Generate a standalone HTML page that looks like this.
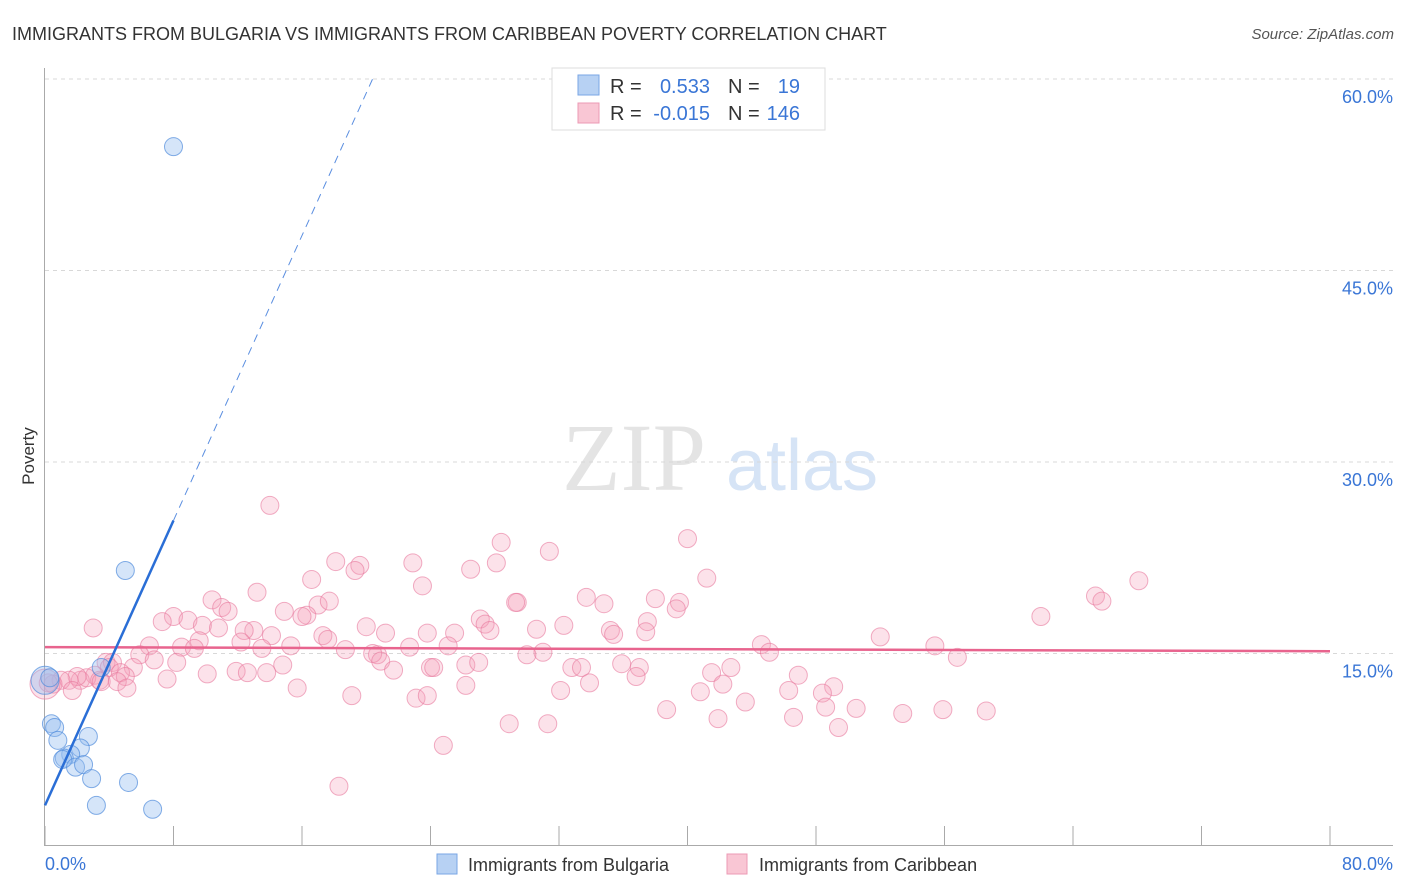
<!DOCTYPE html>
<html><head><meta charset="utf-8">
<style>
body{margin:0;background:#fff;width:1406px;height:892px;overflow:hidden;font-family:"Liberation Sans",sans-serif}
svg{display:block}
</style></head>
<body>
<svg id="chart" width="1406" height="892" xmlns="http://www.w3.org/2000/svg">
<text x="12" y="40" font-size="18" fill="#333">IMMIGRANTS FROM BULGARIA VS IMMIGRANTS FROM CARIBBEAN POVERTY CORRELATION CHART</text>
<text x="1394" y="39" font-size="15" fill="#555" font-style="italic" text-anchor="end">Source: ZipAtlas.com</text>
<g>
<text x="634" y="490" font-size="96" fill="#e4e4e4" text-anchor="middle" font-family="Liberation Serif,serif">ZIP</text>
<text x="802" y="490" font-size="72" fill="#d6e4f6" text-anchor="middle">atlas</text>
</g>
<g id="grid"></g>
<g id="axes"></g>
<g id="marks"></g>
<text x="34" y="456" font-size="17" fill="#333" text-anchor="middle" transform="rotate(-90 34 456)">Poverty</text>
<g>
<rect x="552" y="68" width="273" height="62" fill="#fff" stroke="#ddd"/>
<rect x="578" y="75" width="21" height="20" fill="#b7d1f3" stroke="#7aa6e4"/>
<rect x="578" y="103" width="21" height="20" fill="#f9c6d4" stroke="#ec9ab4"/>
<text x="610" y="93" font-size="20" fill="#333">R =</text>
<text x="710" y="93" font-size="20" fill="#3a76d6" text-anchor="end">0.533</text>
<text x="728" y="93" font-size="20" fill="#333">N =</text>
<text x="800" y="93" font-size="20" fill="#3a76d6" text-anchor="end">19</text>
<text x="610" y="120" font-size="20" fill="#333">R =</text>
<text x="710" y="120" font-size="20" fill="#3a76d6" text-anchor="end">-0.015</text>
<text x="728" y="120" font-size="20" fill="#333">N =</text>
<text x="800" y="120" font-size="20" fill="#3a76d6" text-anchor="end">146</text>
</g>
<g>
<rect x="437" y="854" width="20" height="20" fill="#b7d1f3" stroke="#7aa6e4"/>
<text x="468" y="871" font-size="18" fill="#333">Immigrants from Bulgaria</text>
<rect x="727" y="854" width="20" height="20" fill="#f9c6d4" stroke="#ec9ab4"/>
<text x="759" y="871" font-size="18" fill="#333">Immigrants from Caribbean</text>
</g>
</svg>
<script>
const yTicks=[15,30,45,60];
const yTickLabels=["15.0%","30.0%","45.0%","60.0%"];
const xTicks=[0,8,16,24,32,40,48,56,64,72,80];
const xEndLabels=["0.0%","80.0%"];
const bulgariaX=[8.0,5.0,3.5,0.4,0.6,0.8,2.7,2.2,1.6,1.2,1.1,1.9,2.4,2.9,5.2,3.2,6.7,0,0.3];
const bulgariaY=[54.7,21.5,13.9,9.5,9.2,8.2,8.5,7.6,7.1,6.8,6.7,6.1,6.3,5.2,4.9,3.1,2.8,12.9,13.1];
const caribX=[14,40,28.4,31.4,18.1,22.9,19.6,19.3,28.1,26.5,68.1,41.2,16.6,13.2,23.5,33.7,65.4,65.8,29.4,29.3,34.8,38.0,39.5,10.4,11.0,11.4,17.0,17.7,8.0,8.9,14.9,16.3,16.0,27.1,39.3,62.0,7.3,9.8,10.8,20.0,27.4,27.7,30.6,32.3,35.2,35.4,37.5,37.4,3.0,13.0,12.4,14.1,17.3,17.6,21.2,23.8,25.5,6.5,9.6,12.2,8.5,9.3,13.5,15.3,22.7,25.1,44.6,52.0,55.4,45.1,18.7,20.7,20.4,31.0,30.0,56.8,5.9,6.8,3.8,4.2,8.2,4.0,5.5,14.8,20.9,21.7,24.0,24.2,26.2,27.0,32.8,33.4,35.9,37.0,42.7,41.5,46.9,11.9,12.6,13.8,10.1,3.1,4.7,5.0,2.2,2.6,2.0,1.5,1.0,0.5,3.4,3.5,4.5,7.6,5.1,1.7,0.2,33.9,36.8,26.2,15.7,32.1,40.8,42.2,46.3,49.1,48.4,19.1,23.1,23.8,43.6,48.6,50.5,38.7,41.9,46.6,53.4,55.9,58.6,28.9,31.3,49.4,24.8,18.3,0];
const caribY=[26.6,24.0,23.7,23.0,22.2,22.1,21.9,21.5,22.1,21.6,20.7,20.9,20.8,19.8,20.3,19.4,19.5,19.1,19.0,19.0,18.9,19.3,19.0,19.2,18.6,18.3,18.8,19.1,17.9,17.6,18.3,18.0,17.9,17.7,18.5,17.9,17.5,17.2,17.0,17.1,17.3,16.8,16.9,17.2,16.8,16.5,17.5,16.7,17.0,16.8,16.8,16.4,16.4,16.1,16.6,16.6,16.6,15.6,16.0,15.9,15.5,15.4,15.4,15.6,15.5,15.6,15.7,16.3,15.6,15.1,15.3,14.9,15.0,15.1,14.9,14.7,14.9,14.5,14.3,14.3,14.3,13.9,13.9,14.1,14.4,13.7,13.9,13.9,14.1,14.3,13.9,13.9,14.2,13.9,13.9,13.5,13.3,13.6,13.5,13.5,13.4,13.3,13.5,13.2,12.9,13.1,13.2,12.9,12.9,12.6,12.9,12.8,12.8,13.0,12.3,12.1,12.7,12.7,13.2,12.5,12.3,12.1,12.0,12.6,12.1,12.4,11.9,11.7,11.5,11.7,11.2,10.8,10.7,10.6,9.9,10.0,10.3,10.6,10.5,9.5,9.5,9.2,7.8,4.6,12.6];
const bulgariaTrend=[3.1,2.79];
const caribTrend=[15.5,-0.004];

const NS="http://www.w3.org/2000/svg";
const X=v=>45+v*(1285/80);
const Y=v=>845-v*(766/60);
function mk(tag,attrs,parent){const e=document.createElementNS(NS,tag);for(const k in attrs)e.setAttribute(k,attrs[k]);parent.appendChild(e);return e;}
const grid=document.getElementById('grid'),axes=document.getElementById('axes'),marks=document.getElementById('marks');
yTicks.forEach((t,i)=>{
  const l=mk('line',{x1:45,x2:1393,y1:Y(t),y2:Y(t),stroke:'#d8d8d8','stroke-dasharray':'4,4'},grid);
  
  
  const tx=mk('text',{x:1393,y:Y(t)+24,'font-size':18,fill:'#3a76d6','text-anchor':'end'},axes);
  tx.textContent=yTickLabels[i];
  
  
});
const ya=mk('line',{x1:44.5,x2:44.5,y1:68,y2:845,stroke:'#aaa'},axes);


const xa=mk('line',{x1:44,x2:1393,y1:845.5,y2:845.5,stroke:'#aaa'},axes);


xTicks.forEach(t=>{
  const l=mk('line',{x1:X(t),x2:X(t),y1:826,y2:845,stroke:'#aaa'},axes);
  
  
});
[[0,'start'],[80,'end']].forEach((p,i)=>{
  const tx=mk('text',{x:i?1393:45,y:870,'font-size':18,fill:'#3a76d6','text-anchor':p[1]},axes);
  tx.textContent=xEndLabels[i];
  
  
});
caribX.forEach((x,i)=>{
  const big=(x===0);
  const c=mk('circle',{cx:X(x),cy:Y(caribY[i]),r:big?15:9,fill:'rgba(244,160,186,0.3)',stroke:'rgba(232,120,156,0.6)','stroke-width':1},marks);
  
  
});
bulgariaX.forEach((x,i)=>{
  const big=(x===0);
  const c=mk('circle',{cx:X(x),cy:Y(bulgariaY[i]),r:big?14:9,fill:'rgba(150,190,240,0.4)',stroke:'rgba(80,140,220,0.7)','stroke-width':1},marks);
  
  
});
const pl=mk('line',{x1:X(0),x2:X(80),y1:Y(caribTrend[0]),y2:Y(caribTrend[0]+caribTrend[1]*80),stroke:'#e8648e','stroke-width':2.5},marks);


const xSolidEnd=Math.max(...bulgariaX);
const xDashEnd=(60-bulgariaTrend[0])/bulgariaTrend[1];
const bl=mk('line',{x1:X(0),x2:X(xSolidEnd),y1:Y(bulgariaTrend[0]),y2:Y(bulgariaTrend[0]+bulgariaTrend[1]*xSolidEnd),stroke:'#2a6ed6','stroke-width':2.5},marks);


const bd=mk('line',{x1:X(xSolidEnd),x2:X(xDashEnd),y1:Y(bulgariaTrend[0]+bulgariaTrend[1]*xSolidEnd),y2:Y(60),stroke:'#5a8ee0','stroke-width':1,'stroke-dasharray':'8,6'},marks);


</script>
</body></html>
